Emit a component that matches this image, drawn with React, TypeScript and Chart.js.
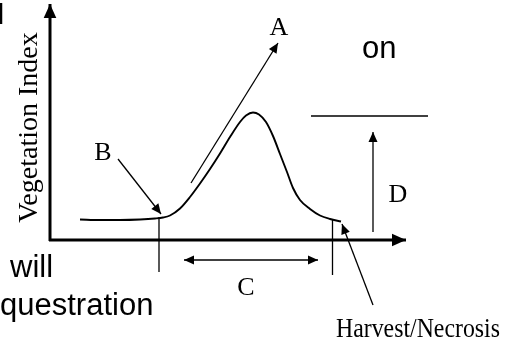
import { useEffect, useRef } from "react";
import { Chart, registerables } from "chart.js";

Chart.register(...registerables);

// Diagram coordinates: x = distance right of the vertical axis, y = height above the horizontal axis.
const X_RANGE = [-50, 469];
const Y_RANGE = [-101, 240];

// Vegetation index curve over the season
const curveX = [30, 50, 70, 90, 105, 113, 120, 130, 140, 150, 160, 170, 180, 190, 196, 203, 209, 216, 223, 230, 237, 243, 250, 260, 270, 280, 291];
const curveY = [20.5, 20, 20, 20.5, 21.5, 22.5, 24.5, 31.5, 43, 56.5, 71, 86.5, 103, 118, 124.5, 127.5, 125.5, 118, 104, 86, 68, 52, 40, 31, 24.5, 21, 18.5];

// Straight segments: [x1, y1, x2, y2, width, headAtStart, headAtEnd, headSize]
type Seg = [number, number, number, number, number, boolean, boolean, number];
const axisSegments: Seg[] = [
  [0, -1, 0, 236, 3, false, true, 14],
  [-1, 0, 356, 0, 3, false, true, 14],
];
const markerSegments: Seg[] = [
  [109, 23, 109, -32, 1.3, false, false, 0],
  [282.5, 20, 282.5, -35, 1.3, false, false, 0],
  [141, 57, 228, 197, 1.3, false, true, 10],
  [68, 81, 111, 26, 1.3, false, true, 10],
  [134, -20, 268, -20, 1.5, true, true, 10],
  [323, 8, 323, 108, 1.3, false, true, 10],
  [323, -65, 292, 16, 1.3, false, true, 10],
  [261, 124, 378, 124, 1.5, false, false, 0],
  [-49, 237, -49, 216, 2.5, false, false, 0],
];

// Text labels: [text, x, y, kind, align, rotation]
type Lbl = [string, number, number, string, CanvasTextAlign, number];
const labelTexts: Lbl[] = [
  ["Vegetation Index", -13, 112.5, "serifAxis", "center", -90],
  ["A", 229, 205, "serif", "center", 0],
  ["B", 53, 80, "serif", "center", 0],
  ["C", 196, -54.5, "serif", "center", 0],
  ["D", 348, 38, "serif", "center", 0],
  ["Harvest/Necrosis", 368, -96.5, "serifSmall", "center", 0],
  ["on", 312, 181.7, "sans", "left", 0],
  ["will", -40, -37, "sans", "left", 0],
  ["questration", -50, -75, "sans", "left", 0],
];

const FONTS: Record<string, { font: string; maxWidth?: number }> = {
  serifAxis: { font: '28px "Liberation Serif", "Times New Roman", serif' },
  serif: { font: '26px "Liberation Serif", "Times New Roman", serif' },
  serifSmall: { font: '27px "Liberation Serif", "Times New Roman", serif', maxWidth: 164 },
  sans: { font: '31px "Liberation Sans", Arial, sans-serif' },
};

const allSegs = [...axisSegments, ...markerSegments];

const headsPlugin = {
  id: "heads",
  afterDatasetsDraw(chart: any) {
    const ctx = chart.ctx as CanvasRenderingContext2D;
    const sx = chart.scales.x;
    const sy = chart.scales.y;
    ctx.save();
    ctx.fillStyle = "#000";
    const head = (fx: number, fy: number, tx: number, ty: number, size: number) => {
      const x1 = sx.getPixelForValue(fx);
      const y1 = sy.getPixelForValue(fy);
      const x2 = sx.getPixelForValue(tx);
      const y2 = sy.getPixelForValue(ty);
      const a = Math.atan2(y2 - y1, x2 - x1);
      const hw = size * 0.45;
      ctx.beginPath();
      ctx.moveTo(x2, y2);
      ctx.lineTo(x2 - size * Math.cos(a) + hw * Math.sin(a), y2 - size * Math.sin(a) - hw * Math.cos(a));
      ctx.lineTo(x2 - size * Math.cos(a) - hw * Math.sin(a), y2 - size * Math.sin(a) + hw * Math.cos(a));
      ctx.closePath();
      ctx.fill();
    };
    for (const s of allSegs) {
      const [x1, y1, x2, y2, , hs, he, size] = s;
      if (he) head(x1, y1, x2, y2, size);
      if (hs) head(x2, y2, x1, y1, size);
    }
    // labels
    ctx.fillStyle = "#000";
    ctx.textBaseline = "alphabetic";
    for (const l of labelTexts) {
      const [text, x, y, kind, align, rot] = l;
      const f = FONTS[kind];
      ctx.save();
      ctx.font = f.font;
      ctx.textAlign = align;
      ctx.translate(sx.getPixelForValue(x), sy.getPixelForValue(y));
      if (rot) ctx.rotate((rot * Math.PI) / 180);
      if (f.maxWidth) ctx.fillText(text, 0, 0, f.maxWidth);
      else ctx.fillText(text, 0, 0);
      ctx.restore();
    }
    ctx.restore();
  },
};

export default function App() {
  const ref = useRef<HTMLCanvasElement>(null);
  useEffect(() => {
    if (!ref.current) return;
    const datasets: any[] = [
      {
        data: curveX.map((x, i) => ({ x, y: curveY[i] })),
        borderColor: "#000",
        borderWidth: 1.9,
        pointRadius: 0,
        showLine: true,
        cubicInterpolationMode: "monotone",
        fill: false,
      },
      ...allSegs.map((s) => ({
        data: [
          { x: s[0], y: s[1] },
          { x: s[2], y: s[3] },
        ],
        borderColor: "#000",
        borderWidth: s[4],
        pointRadius: 0,
        showLine: true,
        tension: 0,
        fill: false,
        borderCapStyle: "butt",
      })),
    ];
    const chart = new Chart(ref.current, {
      type: "scatter",
      data: { datasets },
      options: {
        animation: false,
        responsive: false,
        devicePixelRatio: 1,
        layout: { padding: 0 },
        plugins: { legend: { display: false }, tooltip: { enabled: false } },
        scales: {
          x: { type: "linear", display: false, min: X_RANGE[0], max: X_RANGE[1] },
          y: { type: "linear", display: false, min: Y_RANGE[0], max: Y_RANGE[1] },
        },
      },
      plugins: [headsPlugin],
    } as any);
    return () => chart.destroy();
  }, []);
  return (
    <div style={{ position: "fixed", left: 0, top: 0, width: 519, height: 341, background: "#fff" }}>
      <canvas ref={ref} width={519} height={341} style={{ width: 519, height: 341, display: "block" }} />
    </div>
  );
}
